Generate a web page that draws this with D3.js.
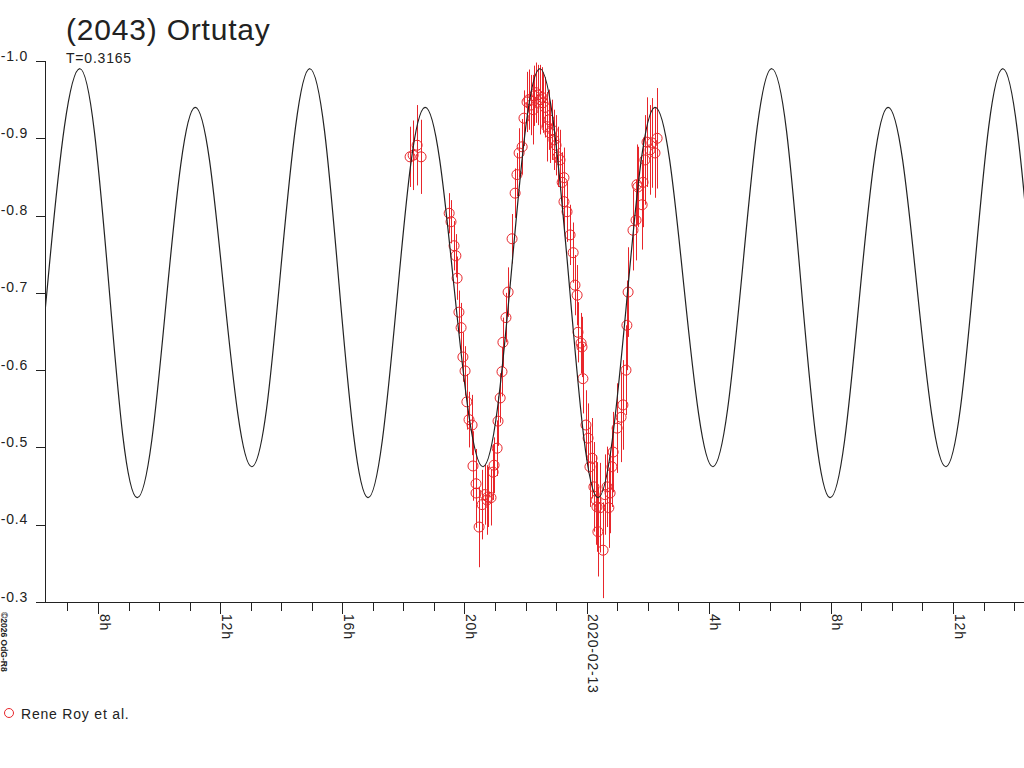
<!DOCTYPE html>
<html>
<head>
<meta charset="utf-8">
<script src="https://cdn.jsdelivr.net/npm/d3@7/dist/d3.min.js"></script>
<style>
  html, body { margin: 0; padding: 0; background: #fff; }
  svg { display: block; }
  text { font-family: "Liberation Sans", Arial, sans-serif; fill: #222; }
</style>
</head>
<body>
<svg id="chart" width="1024" height="768"></svg>
<script>
// ---------------- DATA ----------------
const title = "(2043) Ortutay";
const periodLabel = "T=0.3165";
const seriesName = "Rene Roy et al.";
const copyright = "\u00A92026 OdG-R8";

// reference date: hours counted from 2020-02-12 00:00 UT
const baseDate = "2020-02-12T00:00:00Z";
const xDomainHours = [6.264, 38.325];
const yDomain = [-1.0, -0.3];
const yTickValues = [-1.0, -0.9, -0.8, -0.7, -0.6, -0.5, -0.4, -0.3];

const majorTickHours = [8, 12, 16, 20, 24, 28, 32, 36];
const majorTickLabels = ["8h", "12h", "16h", "20h", "2020-02-13", "4h", "8h", "12h"];
const minorTickHours = [7, 9, 10, 11, 13, 14, 15, 17, 18, 19, 21, 22, 23, 25, 26, 27, 29, 30, 31, 33, 34, 35, 37, 38];

// model lightcurve
const curveHours = [5.45, 5.92, 6.40, 6.90, 7.41, 7.88, 8.35, 8.81, 9.28, 9.76, 10.23, 10.71, 11.18,
  11.65, 12.11, 12.58, 13.04, 13.52, 13.99, 14.47, 14.94, 15.42, 15.89, 16.37, 16.84,
  17.31, 17.78, 18.24, 18.71, 19.19, 19.66, 20.14, 20.61, 21.08, 21.55, 22.01, 22.48,
  22.95, 23.43, 23.90, 24.37, 24.84, 25.31, 25.77, 26.24, 26.72, 27.19, 27.67, 28.14,
  28.62, 29.11, 29.59, 30.07, 30.55, 31.02, 31.50, 31.97, 32.45, 32.92, 33.40, 33.87,
  34.35, 34.82, 35.30, 35.77, 36.24, 36.71, 37.17, 37.64, 38.11, 38.59, 39.06, 39.53];
const curveMags = [-0.475, -0.550, -0.7325, -0.915, -0.990, -0.909, -0.7125, -0.516, -0.435, -0.509, -0.6875, -0.866, -0.940,
  -0.872, -0.7075, -0.543, -0.475, -0.550, -0.7325, -0.915, -0.990, -0.909, -0.7125, -0.516, -0.435,
  -0.509, -0.6875, -0.866, -0.940, -0.872, -0.7075, -0.543, -0.475, -0.550, -0.7325, -0.915, -0.990,
  -0.909, -0.7125, -0.516, -0.435, -0.509, -0.6875, -0.866, -0.940, -0.872, -0.7075, -0.543, -0.475,
  -0.550, -0.7325, -0.915, -0.990, -0.909, -0.7125, -0.516, -0.435, -0.509, -0.6875, -0.866, -0.940,
  -0.872, -0.7075, -0.543, -0.475, -0.550, -0.7325, -0.915, -0.990, -0.909, -0.7125, -0.516, -0.435];

// observations (hours since base, magnitude, error)
const obsHours = [18.22, 18.32, 18.45, 18.58,
  19.50, 19.56, 19.66, 19.72, 19.76, 19.82, 19.89, 19.95, 20.02, 20.08, 20.15, 20.25, 20.28, 20.38, 20.38,
  20.48, 20.58, 20.67, 20.74, 20.77, 20.87, 20.94, 20.97, 21.07, 21.10, 21.17, 21.23, 21.26, 21.36, 21.43,
  21.56, 21.66, 21.72, 21.79, 21.89, 21.95, 22.05,
  22.11, 22.18, 22.25, 22.28, 22.34, 22.41, 22.48, 22.54, 22.57, 22.64, 22.70, 22.77, 22.80, 22.87, 22.93,
  23.00, 23.06, 23.13, 23.20, 23.26,
  23.26, 23.36, 23.46, 23.56, 23.62, 23.69, 23.72, 23.82, 23.85, 23.88, 23.98, 24.05, 24.11, 24.18, 24.24,
  24.31, 24.34, 24.44, 24.37, 24.54, 24.60, 24.67, 24.73, 24.77, 24.83, 24.87, 25.00, 25.13, 25.19, 25.29,
  25.32, 25.36, 25.52, 25.62, 25.65, 25.68, 25.82, 25.85, 25.91, 25.98, 26.08, 26.14, 26.24, 26.31];
const obsMags = [-0.876, -0.878, -0.891, -0.876,
  -0.803, -0.792, -0.761, -0.748, -0.719, -0.675, -0.655, -0.617, -0.599, -0.559, -0.536, -0.529, -0.476, -0.453, -0.441,
  -0.397, -0.426, -0.439, -0.432, -0.436, -0.435, -0.468, -0.477, -0.499, -0.534, -0.564, -0.598, -0.636, -0.668, -0.701,
  -0.770, -0.829, -0.853, -0.881, -0.889, -0.926, -0.947,
  -0.950, -0.943, -0.937, -0.955, -0.959, -0.956, -0.950, -0.953, -0.946, -0.940, -0.915, -0.924, -0.907, -0.911, -0.898,
  -0.891, -0.876, -0.872, -0.843, -0.849,
  -0.818, -0.805, -0.775, -0.752, -0.710, -0.697, -0.649, -0.635, -0.630, -0.589, -0.529, -0.512, -0.475, -0.486, -0.449,
  -0.432, -0.423, -0.422, -0.391, -0.367, -0.439, -0.449, -0.422, -0.441, -0.475, -0.494, -0.525, -0.539, -0.555, -0.600,
  -0.658, -0.701, -0.781, -0.794, -0.840, -0.837, -0.814, -0.843, -0.872, -0.895, -0.885, -0.894, -0.881, -0.900];
const obsErrs = [0.039, 0.045, 0.052, 0.048,
  0.026, 0.028, 0.032, 0.028, 0.028, 0.028, 0.032, 0.032, 0.032, 0.036, 0.036, 0.039, 0.045, 0.045, 0.045,
  0.052, 0.045, 0.039, 0.045, 0.039, 0.036, 0.036, 0.036, 0.036, 0.032, 0.032, 0.032, 0.032, 0.032, 0.032,
  0.032, 0.032, 0.028, 0.032, 0.036, 0.036, 0.039,
  0.039, 0.039, 0.045, 0.039, 0.039, 0.039, 0.045, 0.039, 0.039, 0.039, 0.045, 0.039, 0.039, 0.039, 0.039,
  0.039, 0.039, 0.039, 0.039, 0.039,
  0.039, 0.039, 0.039, 0.039, 0.039, 0.039, 0.039, 0.039, 0.039, 0.045, 0.045, 0.045, 0.052, 0.052, 0.058,
  0.058, 0.058, 0.058, 0.058, 0.062, 0.052, 0.052, 0.052, 0.052, 0.052, 0.052, 0.058, 0.058, 0.058, 0.058,
  0.058, 0.058, 0.052, 0.052, 0.052, 0.052, 0.058, 0.058, 0.058, 0.058, 0.058, 0.058, 0.058, 0.065];

// ---------------- CHART ----------------
const RED = "#e8262b";
const INK = "#222";
const base = new Date(baseDate).getTime();
const toDate = h => new Date(base + h * 3600000);

const svg = d3.select("#chart");
const plotLeft = 45, plotRight = 1024, plotTop = 61, plotBottom = 602;

const x = d3.scaleUtc().domain(xDomainHours.map(toDate)).range([plotLeft, plotRight]);
const y = d3.scaleLinear().domain(yDomain).range([plotTop, plotBottom]);

// clip
svg.append("defs").append("clipPath").attr("id", "clip")
  .append("rect").attr("x", plotLeft).attr("y", 0).attr("width", plotRight - plotLeft).attr("height", plotBottom);

// title
svg.append("text").attr("x", 66).attr("y", 40)
  .style("font-size", "30px").style("letter-spacing", "0.8px").text(title);
svg.append("text").attr("x", 66).attr("y", 63)
  .style("font-size", "14px").style("letter-spacing", "0.8px").text(periodLabel);

// y axis
const yAxis = d3.axisLeft(y).tickValues(yTickValues).tickSize(9).tickPadding(8)
  .tickFormat(d => d.toFixed(1));
const gy = svg.append("g").attr("transform", `translate(${plotLeft},0)`).call(yAxis);
gy.select(".domain").attr("stroke", INK).attr("shape-rendering", "crispEdges");
gy.selectAll(".tick line").attr("stroke", INK).attr("shape-rendering", "crispEdges");
gy.selectAll(".tick text").attr("dy", "-1").attr("fill", INK)
  .style("font-size", "14px").style("letter-spacing", "0.8px")
  .style("font-family", '"Liberation Sans", Arial, sans-serif');

// x axis: minor ticks
const xMinor = d3.axisBottom(x).tickValues(minorTickHours.map(toDate)).tickSize(9).tickSizeOuter(0).tickFormat("");
const gxm = svg.append("g").attr("transform", `translate(0,${plotBottom})`).call(xMinor);
gxm.select(".domain").remove();
gxm.selectAll(".tick line").attr("stroke", INK).attr("shape-rendering", "crispEdges");

// x axis: major ticks + labels
const labelByTime = new Map(majorTickHours.map((h, i) => [toDate(h).getTime(), majorTickLabels[i]]));
const xMajor = d3.axisBottom(x).tickValues(majorTickHours.map(toDate)).tickSize(12).tickSizeOuter(0)
  .tickFormat(d => labelByTime.get(d.getTime()));
const gx = svg.append("g").attr("transform", `translate(0,${plotBottom})`).call(xMajor);
gx.select(".domain").attr("stroke", INK).attr("shape-rendering", "crispEdges");
gx.selectAll(".tick line").attr("stroke", INK).attr("shape-rendering", "crispEdges");
gx.selectAll(".tick text")
  .attr("transform", "rotate(90)")
  .attr("x", 12).attr("y", -1).attr("dy", "0")
  .attr("text-anchor", "start").attr("fill", INK)
  .style("font-size", "14px").style("letter-spacing", "0.8px")
  .style("font-family", '"Liberation Sans", Arial, sans-serif');

// observations
const obs = obsHours.map((h, i) => ({ t: toDate(h), m: obsMags[i], e: obsErrs[i] }));
const gObs = svg.append("g");
gObs.selectAll("line.err").data(obs).join("line").attr("class", "err")
  .attr("x1", d => Math.round(x(d.t)) + 0.5).attr("x2", d => Math.round(x(d.t)) + 0.5)
  .attr("y1", d => y(d.m - d.e)).attr("y2", d => y(d.m + d.e))
  .attr("stroke", RED).attr("stroke-width", 1);
gObs.selectAll("circle").data(obs).join("circle")
  .attr("cx", d => x(d.t)).attr("cy", d => y(d.m)).attr("r", 5)
  .attr("fill", "none").attr("stroke", RED).attr("stroke-width", 1);

// model curve
const curve = curveHours.map((h, i) => ({ t: toDate(h), m: curveMags[i] }));
svg.append("path").datum(curve)
  .attr("clip-path", "url(#clip)")
  .attr("fill", "none").attr("stroke", INK).attr("stroke-width", 1.2)
  .attr("d", d3.line().x(d => x(d.t)).y(d => y(d.m)).curve(d3.curveNatural));

// legend
svg.append("circle").attr("cx", 9).attr("cy", 713).attr("r", 4.5)
  .attr("fill", "none").attr("stroke", RED).attr("stroke-width", 1);
svg.append("text").attr("x", 21).attr("y", 719)
  .style("font-size", "14px").style("letter-spacing", "0.8px").text(seriesName);

// copyright
svg.append("text").attr("transform", "translate(1,612) rotate(90)")
  .style("font-size", "8.5px").style("font-weight", "bold").text(copyright);
</script>
</body>
</html>
